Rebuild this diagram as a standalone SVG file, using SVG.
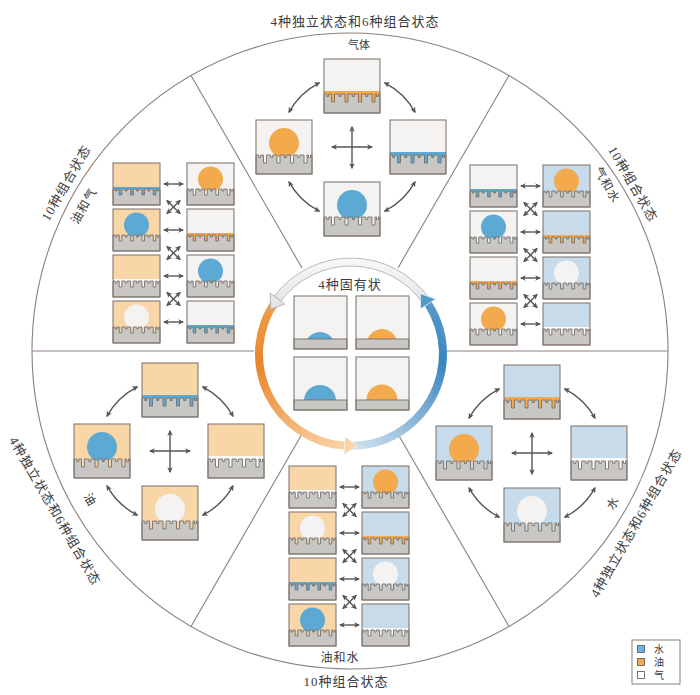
<svg xmlns="http://www.w3.org/2000/svg" xmlns:xlink="http://www.w3.org/1999/xlink" width="700" height="695" viewBox="0 0 700 695">
<style>
text{font-family:"Liberation Serif","Noto Sans CJK SC",serif;fill:#3b3b3b}
.t13{font-size:13px;letter-spacing:1px}
.t11{font-size:12px;letter-spacing:1px}
.g{fill:#f4f3f1}
.o{fill:#f8d6a8}
.w{fill:#c7dbea}
.fb{fill:#5ca9d4}
.fo{fill:#f2aa4c}
.fw{fill:#fbfbfa}
.sub{fill:#c9c7c4;stroke:#77716c;stroke-width:0.9;stroke-linejoin:miter}
.fr{fill:none;stroke:#857a73;stroke-width:1.1}
.ln{fill:none;stroke:#8e8079;stroke-width:1.1}
.cn{fill:none;stroke:#555;stroke-width:1.4;marker-start:url(#ah);marker-end:url(#ah)}
</style>
<defs>
<marker id="ah" viewBox="0 0 10 10" refX="8" refY="5" markerWidth="6" markerHeight="6" markerUnits="userSpaceOnUse" orient="auto-start-reverse">
<path d="M0,0.5 L10,5 L0,9.5 L2.5,5 Z" fill="#555"/>
</marker>
<path id="tL" class="sub" d="M0,54 V35 H2.75 V37.5 H4.75 V35 H7.5 V43 H10.5 V35 H14.75 V37.5 H16.75 V35 H21 V43 H24 V35 H28.25 V37.5 H30.25 V35 H34.5 V43 H37.5 V35 H41.75 V37.5 H43.75 V35 H48 V43 H51 V35 H52.5 V37.5 H54.5 V35 H56 V54 Z"/>
<path id="tS" class="sub" d="M0,42 V26 H2.2 V28 H4 V26 H6.2 V32 H8.8 V26 H12.3 V28 H14.1 V26 H17.6 V32 H20.2 V26 H23.65 V28 H25.45 V26 H28.9 V32 H31.5 V26 H34.95 V28 H36.75 V26 H40.2 V32 H42.8 V26 H44 V28 H45.8 V26 H47 V42 Z"/>
<linearGradient id="gO" gradientUnits="userSpaceOnUse" x1="270" y1="300" x2="350" y2="450">
<stop offset="0" stop-color="#efa04c"/><stop offset="0.3" stop-color="#e8852b"/><stop offset="1" stop-color="#fbd6ad"/>
</linearGradient>
<linearGradient id="gB" gradientUnits="userSpaceOnUse" x1="350" y1="450" x2="440" y2="300">
<stop offset="0" stop-color="#d3e3f0"/><stop offset="0.7" stop-color="#3a85bf"/><stop offset="1" stop-color="#5b9dcc"/>
</linearGradient>
<linearGradient id="gG" gradientUnits="userSpaceOnUse" x1="350" y1="258" x2="350" y2="310">
<stop offset="0" stop-color="#f8f8f8"/><stop offset="1" stop-color="#e2e2e2"/>
</linearGradient>
</defs>
<rect width="700" height="695" fill="#ffffff"/>

<g id="frame">
<circle class="ln" cx="350" cy="351" r="318" fill="#fff"/>
<path class="ln" d="M446,351 L668,351 M254,351 L32,351 M398,434.1 L509,626.4 M302,434.1 L191,626.4 M302,267.9 L191,75.6 M398,267.9 L509,75.6"/>
</g>

<g id="ring">
<path d="M272.36,298.93 A96,96 0 0 0 344.30,449.77 L344.86,441.79 A88,88 0 0 1 278.91,303.52 Z" fill="url(#gO)"/>
<path d="M347.65,449.94 A96,96 0 0 0 431.52,301.72 L424.81,306.08 A88,88 0 0 1 347.93,441.95 Z" fill="url(#gB)"/>
<path d="M429.64,298.93 A96,96 0 0 0 274.33,296.23 L280.72,301.04 A88,88 0 0 1 423.09,303.52 Z" fill="url(#gG)" stroke="#a8a8a8" stroke-width="0.8"/>
<path d="M343.95,454.75 L357.42,445.78 L345.21,436.80 Z" fill="url(#gO)" stroke="#fff" stroke-width="0.6"/>
<path d="M435.71,299.00 L420.43,293.64 L420.61,308.80 Z" fill="url(#gB)" stroke="#fff" stroke-width="0.6"/>
<path d="M270.34,293.22 L270.54,309.40 L284.72,304.05 Z" fill="url(#gG)" stroke="#a8a8a8" stroke-width="0.8"/>
</g>

<g id="inherent">
<text x="350" y="289" class="t13" text-anchor="middle">4种固有状</text>
<g transform="translate(294,296)"><rect class="g" width="53" height="53"/><path class="fb" d="M13,43 A15.6,15.6 0 0 1 39,43 Z"/><rect class="sub" y="43" width="53" height="10"/><rect class="fr" width="53" height="53"/></g>
<g transform="translate(356,296)"><rect class="g" width="53" height="53"/><path class="fo" d="M11.5,43 A15.5,15.5 0 0 1 40.5,43 Z"/><rect class="sub" y="43" width="53" height="10"/><rect class="fr" width="53" height="53"/></g>
<g transform="translate(294,357)"><rect class="g" width="53" height="53"/><path class="fb" d="M10,43 A16.03,16.03 0 0 1 42,43 Z"/><rect class="sub" y="43" width="53" height="10"/><rect class="fr" width="53" height="53"/></g>
<g transform="translate(356,357)"><rect class="g" width="53" height="53"/><path class="fo" d="M10.5,43 A15.5,15.5 0 0 1 41.5,43 Z"/><rect class="sub" y="43" width="53" height="10"/><rect class="fr" width="53" height="53"/></g>
</g>

<g id="gas-cluster">
<g transform="translate(324,59)"><rect class="g" width="56" height="54"/><rect class="fo" y="32" width="56" height="13"/><use href="#tL"/><rect class="fr" width="56" height="54"/></g>
<g transform="translate(256,120)"><rect class="g" width="56" height="54"/><circle class="fo" cx="28" cy="23" r="15"/><use href="#tL"/><rect class="fr" width="56" height="54"/></g>
<g transform="translate(390,120)"><rect class="g" width="56" height="54"/><rect class="fb" y="32" width="56" height="13"/><use href="#tL"/><rect class="fr" width="56" height="54"/></g>
<g transform="translate(324,182)"><rect class="g" width="56" height="54"/><circle class="fb" cx="28" cy="23" r="15"/><use href="#tL"/><rect class="fr" width="56" height="54"/></g>
</g>

<g id="oil-cluster">
<g transform="translate(142,363)"><rect class="o" width="56" height="54"/><rect class="fb" y="32" width="56" height="13"/><use href="#tL"/><rect class="fr" width="56" height="54"/></g>
<g transform="translate(74,424)"><rect class="o" width="56" height="54"/><circle class="fb" cx="28" cy="23" r="15"/><use href="#tL"/><rect class="fr" width="56" height="54"/></g>
<g transform="translate(208,424)"><rect class="o" width="56" height="54"/><rect class="fw" y="32" width="56" height="13"/><use href="#tL"/><rect class="fr" width="56" height="54"/></g>
<g transform="translate(142,486)"><rect class="o" width="56" height="54"/><circle class="g" cx="28" cy="23" r="15"/><use href="#tL"/><rect class="fr" width="56" height="54"/></g>
</g>

<g id="water-cluster">
<g transform="translate(504,365)"><rect class="w" width="56" height="54"/><rect class="fo" y="32" width="56" height="13"/><use href="#tL"/><rect class="fr" width="56" height="54"/></g>
<g transform="translate(436,426)"><rect class="w" width="56" height="54"/><circle class="fo" cx="28" cy="23" r="15"/><use href="#tL"/><rect class="fr" width="56" height="54"/></g>
<g transform="translate(571,426)"><rect class="w" width="56" height="54"/><rect class="fw" y="32" width="56" height="13"/><use href="#tL"/><rect class="fr" width="56" height="54"/></g>
<g transform="translate(504,488)"><rect class="w" width="56" height="54"/><circle class="g" cx="28" cy="23" r="15"/><use href="#tL"/><rect class="fr" width="56" height="54"/></g>
</g>

<g id="oil-gas">
<g transform="translate(113,163)"><rect class="o" width="47" height="42"/><rect class="fb" y="24" width="47" height="10"/><use href="#tS"/><rect class="fr" width="47" height="42"/></g>
<g transform="translate(187,163)"><rect class="g" width="47" height="42"/><circle class="fo" cx="23.5" cy="16" r="12.5"/><use href="#tS"/><rect class="fr" width="47" height="42"/></g>
<g transform="translate(113,209)"><rect class="o" width="47" height="42"/><circle class="fb" cx="23.5" cy="16" r="12.5"/><use href="#tS"/><rect class="fr" width="47" height="42"/></g>
<g transform="translate(187,209)"><rect class="g" width="47" height="42"/><rect class="fo" y="24" width="47" height="10"/><use href="#tS"/><rect class="fr" width="47" height="42"/></g>
<g transform="translate(113,255)"><rect class="o" width="47" height="42"/><rect class="fw" y="24" width="47" height="10"/><use href="#tS"/><rect class="fr" width="47" height="42"/></g>
<g transform="translate(187,255)"><rect class="g" width="47" height="42"/><circle class="fb" cx="23.5" cy="16" r="12.5"/><use href="#tS"/><rect class="fr" width="47" height="42"/></g>
<g transform="translate(113,301)"><rect class="o" width="47" height="42"/><circle class="g" cx="23.5" cy="16" r="12.5"/><use href="#tS"/><rect class="fr" width="47" height="42"/></g>
<g transform="translate(187,301)"><rect class="g" width="47" height="42"/><rect class="fb" y="24" width="47" height="10"/><use href="#tS"/><rect class="fr" width="47" height="42"/></g>
</g>

<g id="gas-water">
<g transform="translate(470,165)"><rect class="g" width="47" height="42"/><rect class="fb" y="24" width="47" height="10"/><use href="#tS"/><rect class="fr" width="47" height="42"/></g>
<g transform="translate(543,165)"><rect class="w" width="47" height="42"/><circle class="fo" cx="23.5" cy="16" r="12.5"/><use href="#tS"/><rect class="fr" width="47" height="42"/></g>
<g transform="translate(470,211)"><rect class="g" width="47" height="42"/><circle class="fb" cx="23.5" cy="16" r="12.5"/><use href="#tS"/><rect class="fr" width="47" height="42"/></g>
<g transform="translate(543,211)"><rect class="w" width="47" height="42"/><rect class="fo" y="24" width="47" height="10"/><use href="#tS"/><rect class="fr" width="47" height="42"/></g>
<g transform="translate(470,257)"><rect class="g" width="47" height="42"/><rect class="fo" y="24" width="47" height="10"/><use href="#tS"/><rect class="fr" width="47" height="42"/></g>
<g transform="translate(543,257)"><rect class="w" width="47" height="42"/><circle class="g" cx="23.5" cy="16" r="12.5"/><use href="#tS"/><rect class="fr" width="47" height="42"/></g>
<g transform="translate(470,303)"><rect class="g" width="47" height="42"/><circle class="fo" cx="23.5" cy="16" r="12.5"/><use href="#tS"/><rect class="fr" width="47" height="42"/></g>
<g transform="translate(543,303)"><rect class="w" width="47" height="42"/><rect class="fw" y="24" width="47" height="10"/><use href="#tS"/><rect class="fr" width="47" height="42"/></g>
</g>

<g id="oil-water">
<g transform="translate(289,466)"><rect class="o" width="47" height="42"/><rect class="fw" y="24" width="47" height="10"/><use href="#tS"/><rect class="fr" width="47" height="42"/></g>
<g transform="translate(362,466)"><rect class="w" width="47" height="42"/><circle class="fo" cx="23.5" cy="16" r="12.5"/><use href="#tS"/><rect class="fr" width="47" height="42"/></g>
<g transform="translate(289,512)"><rect class="o" width="47" height="42"/><circle class="g" cx="23.5" cy="16" r="12.5"/><use href="#tS"/><rect class="fr" width="47" height="42"/></g>
<g transform="translate(362,512)"><rect class="w" width="47" height="42"/><rect class="fo" y="24" width="47" height="10"/><use href="#tS"/><rect class="fr" width="47" height="42"/></g>
<g transform="translate(289,558)"><rect class="o" width="47" height="42"/><rect class="fb" y="24" width="47" height="10"/><use href="#tS"/><rect class="fr" width="47" height="42"/></g>
<g transform="translate(362,558)"><rect class="w" width="47" height="42"/><circle class="g" cx="23.5" cy="16" r="12.5"/><use href="#tS"/><rect class="fr" width="47" height="42"/></g>
<g transform="translate(289,604)"><rect class="o" width="47" height="42"/><circle class="fb" cx="23.5" cy="16" r="12.5"/><use href="#tS"/><rect class="fr" width="47" height="42"/></g>
<g transform="translate(362,604)"><rect class="w" width="47" height="42"/><rect class="fw" y="24" width="47" height="10"/><use href="#tS"/><rect class="fr" width="47" height="42"/></g>
</g>

<g id="connectors">
<path class="cn" d="M319.3,82.8 A72,72 0 0 0 289,112.1"/>
<path class="cn" d="M384.7,82.8 A72,72 0 0 1 415,112.1"/>
<path class="cn" d="M289,181.9 A72,72 0 0 0 319.3,211.2"/>
<path class="cn" d="M415,181.9 A72,72 0 0 1 384.7,211.2"/>
<path class="cn" d="M332,147 H372"/><path class="cn" d="M352,127 V168"/>
<path class="cn" d="M137.3,386.8 A72,72 0 0 0 107,416.1"/>
<path class="cn" d="M202.7,386.8 A72,72 0 0 1 233,416.1"/>
<path class="cn" d="M107,485.9 A72,72 0 0 0 137.3,515.2"/>
<path class="cn" d="M233,485.9 A72,72 0 0 1 202.7,515.2"/>
<path class="cn" d="M150,451 H190"/><path class="cn" d="M170,431 V472"/>
<path class="cn" d="M499.3,388.8 A72,72 0 0 0 469,418.1"/>
<path class="cn" d="M564.7,388.8 A72,72 0 0 1 595,418.1"/>
<path class="cn" d="M469,487.9 A72,72 0 0 0 499.3,517.2"/>
<path class="cn" d="M595,487.9 A72,72 0 0 1 564.7,517.2"/>
<path class="cn" d="M512,453 H552"/><path class="cn" d="M532,433 V474"/>
<path class="cn" d="M164,184 H183"/><path class="cn" d="M164,230 H183"/><path class="cn" d="M164,276 H183"/><path class="cn" d="M164,322 H183"/>
<path class="cn" d="M167,200.5 L180,213.5"/><path class="cn" d="M180,200.5 L167,213.5"/>
<path class="cn" d="M167,246.5 L180,259.5"/><path class="cn" d="M180,246.5 L167,259.5"/>
<path class="cn" d="M167,292.5 L180,305.5"/><path class="cn" d="M180,292.5 L167,305.5"/>
<path class="cn" d="M521,186 H540"/><path class="cn" d="M521,232 H540"/><path class="cn" d="M521,278 H540"/><path class="cn" d="M521,324 H540"/>
<path class="cn" d="M524,202.5 L537,215.5"/><path class="cn" d="M537,202.5 L524,215.5"/>
<path class="cn" d="M524,248.5 L537,261.5"/><path class="cn" d="M537,248.5 L524,261.5"/>
<path class="cn" d="M524,294.5 L537,307.5"/><path class="cn" d="M537,294.5 L524,307.5"/>
<path class="cn" d="M340,487 H359"/><path class="cn" d="M340,533 H359"/><path class="cn" d="M340,579 H359"/><path class="cn" d="M340,625 H359"/>
<path class="cn" d="M343,503.5 L356,516.5"/><path class="cn" d="M356,503.5 L343,516.5"/>
<path class="cn" d="M343,549.5 L356,562.5"/><path class="cn" d="M356,549.5 L343,562.5"/>
<path class="cn" d="M343,595.5 L356,608.5"/><path class="cn" d="M356,595.5 L343,608.5"/>
</g>

<g id="labels">
<text x="355" y="26" class="t13" text-anchor="middle">4种独立状态和6种组合状态</text>
<text x="346" y="686" class="t13" text-anchor="middle">10种组合状态</text>
<text class="t13" text-anchor="middle" dominant-baseline="central" transform="translate(66,183) rotate(-60)">10种组合状态</text>
<text class="t13" text-anchor="middle" dominant-baseline="central" transform="translate(633,184) rotate(60)">10种组合状态</text>
<text class="t13" text-anchor="middle" dominant-baseline="central" transform="translate(55,511) rotate(60)">4种独立状态和6种组合状态</text>
<text class="t13" text-anchor="middle" dominant-baseline="central" transform="translate(636,523) rotate(-60)">4种独立状态和6种组合状态</text>
<text x="359" y="49" font-size="11" text-anchor="middle">气体</text>
<text x="340" y="662" class="t11" text-anchor="middle">油和水</text>
<text class="t11" text-anchor="middle" dominant-baseline="central" transform="translate(84,206) rotate(-60)">油和气</text>
<text class="t11" text-anchor="middle" dominant-baseline="central" transform="translate(607,185) rotate(60)">气和水</text>
<text class="t11" text-anchor="middle" dominant-baseline="central" transform="translate(90,500) rotate(60)">油</text>
<text class="t11" text-anchor="middle" dominant-baseline="central" transform="translate(613,503) rotate(-60)">水</text>
</g>

<g id="legend">
<rect x="632" y="640" width="48" height="44" fill="#fff" stroke="#8a7f78" stroke-width="1"/>
<rect x="637.5" y="645.5" width="7" height="7" fill="#6bb3de" stroke="#555" stroke-width="0.8"/>
<rect x="637.5" y="658.5" width="7" height="7" fill="#f5a94e" stroke="#555" stroke-width="0.8"/>
<rect x="637.5" y="671.5" width="7" height="7" fill="#fff" stroke="#555" stroke-width="0.8"/>
<text x="654" y="653" font-size="10">水</text>
<text x="654" y="666" font-size="10">油</text>
<text x="654" y="679" font-size="10">气</text>
</g>
</svg>
